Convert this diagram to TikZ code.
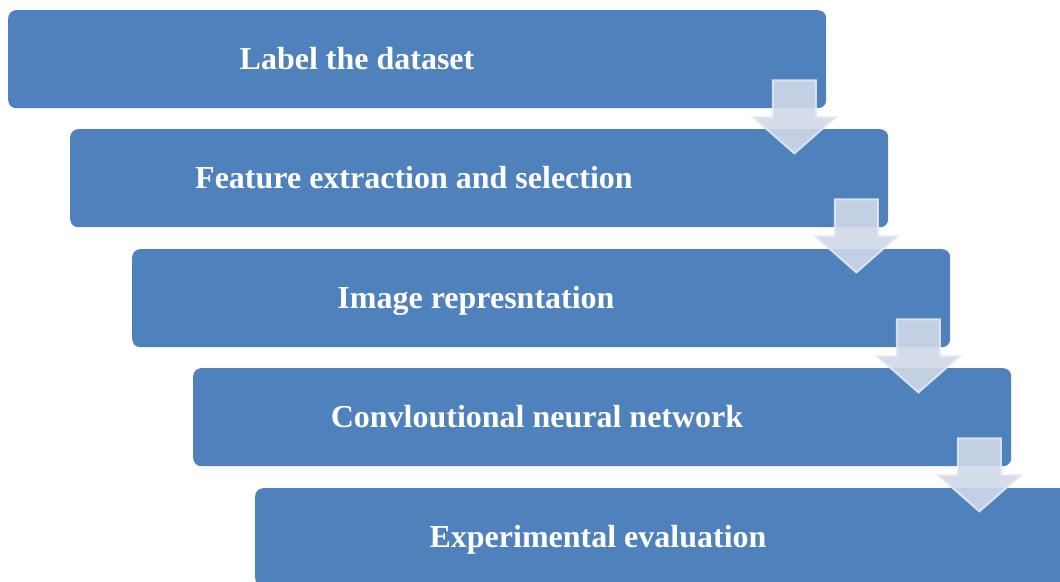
\documentclass[tikz,border=0pt]{standalone}
\usepackage{fontspec}
\setmainfont{Liberation Serif}
\usetikzlibrary{calc}
\definecolor{stageblue}{RGB}{79,129,189}
\definecolor{arrfill}{RGB}{208,216,232}
\definecolor{arrline}{RGB}{226,231,241}

\begin{document}
\begin{tikzpicture}[x=1pt, y=-1pt,
  stage/.style={fill=stageblue, rounded corners=8pt, anchor=north west, inner sep=0pt,
    minimum width=818pt, minimum height=98pt},
  lbl/.style={font=\fontsize{32}{38}\selectfont\bfseries, text=white, anchor=base},
  downarr/.style={fill=arrfill, fill opacity=0.9, draw=arrline, draw opacity=0.9,
    line width=2pt, line join=miter}]
\useasboundingbox (0,0) rectangle (1060,581);
\clip (0,0) rectangle (1060,581);
% steps
\node[stage] (b1) at (8,10)   {};
\node[stage] (b2) at (70,129) {};
\node[stage] (b3) at (132,249) {};
\node[stage] (b4) at (193,368) {};
\node[stage] (b5) at (255,488) {};
\node[lbl] (t1) at ($(b1.west)+(349,10)$) {Label the dataset};
\node[lbl] (t2) at ($(b2.west)+(344,10)$) {Feature extraction and selection};
\node[lbl] (t3) at ($(b3.west)+(344,10)$) {Image represntation};
\node[lbl] (t4) at ($(b4.west)+(344,10)$) {Convloutional neural network};
\node[lbl] (t5) at ($(b5.west)+(343,10)$) {Experimental evaluation};
% arrows between steps
\foreach \i in {1,...,4}{
  \coordinate (a\i) at ($(b\i.south east)+(-32,45)$);
  \draw[downarr] (a\i) -- ++(-41,-36) -- ++(19.5,0) -- ++(0,-37) -- ++(43,0)
    -- ++(0,37) -- ++(19.5,0) -- cycle;
}
\end{tikzpicture}
\end{document}
